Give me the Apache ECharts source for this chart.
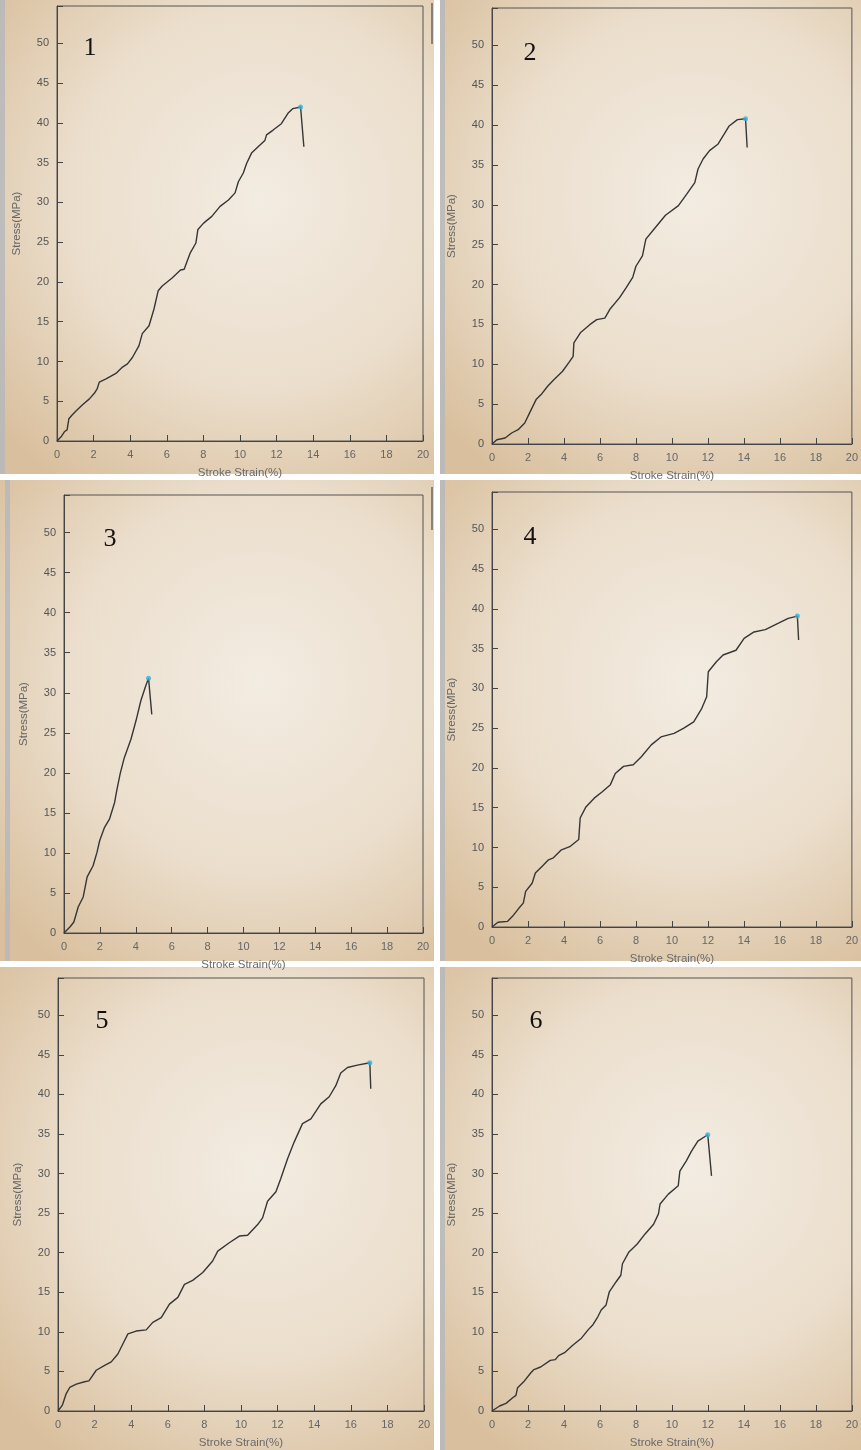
<!DOCTYPE html>
<html>
<head>
<meta charset="utf-8">
<script src="https://cdn.jsdelivr.net/npm/echarts@6/dist/echarts.min.js"></script>
<style>
html,body{margin:0;padding:0;background:#ffffff;}
#chart{width:861px;height:1450px;}
</style>
</head>
<body>
<div id="chart"></div>
<script>
// ---- data: [strain %, stress MPa] ----
var panelLabels = ['1','2','3','4','5','6'];
var xTickStep = 2, xMax = 20, yTickStep = 5, yMax = 54.7;
var xAxisName = 'Stroke Strain(%)';
var yAxisName = 'Stress(MPa)';

var curve1 = [[0,0],[0.25,0.6],[0.42,1.2],[0.55,1.4],[0.65,2.8],[0.8,3.2],[1.05,3.8],[1.41,4.6],[1.77,5.3],[2.04,6.0],[2.2,6.6],[2.31,7.4],[2.68,7.8],[3.22,8.5],[3.58,9.3],[3.85,9.7],[4.12,10.5],[4.48,12.0],[4.66,13.5],[5.03,14.5],[5.3,16.6],[5.53,18.9],[5.75,19.5],[6.29,20.5],[6.75,21.5],[6.95,21.6],[7.11,22.6],[7.29,23.7],[7.59,24.9],[7.7,26.6],[8.01,27.4],[8.46,28.25],[8.91,29.5],[9.37,30.3],[9.73,31.2],[9.91,32.6],[10.18,33.7],[10.36,34.9],[10.63,36.2],[10.99,37.0],[11.36,37.8],[11.45,38.5],[11.81,39.1],[12.26,39.9],[12.62,41.2],[12.89,41.8],[13.31,42.0],[13.49,37.0]];
var curve2 = [[0,0],[0.27,0.54],[0.73,0.75],[1.09,1.38],[1.45,1.8],[1.82,2.64],[2.09,3.9],[2.45,5.57],[2.73,6.2],[3.09,7.25],[3.45,8.1],[3.91,9.1],[4.27,10.2],[4.51,11.0],[4.55,12.7],[4.91,13.95],[5.45,15.0],[5.82,15.6],[6.27,15.8],[6.55,16.9],[7.09,18.36],[7.45,19.6],[7.82,20.9],[8.0,22.3],[8.36,23.6],[8.55,25.7],[9.0,26.95],[9.64,28.7],[10.36,29.9],[10.82,31.35],[11.27,32.8],[11.45,34.5],[11.73,35.75],[12.09,36.8],[12.55,37.6],[12.91,38.9],[13.18,39.9],[13.64,40.7],[14.09,40.8],[14.18,37.2]];
var curve3 = [[0,0],[0.33,0.75],[0.55,1.37],[0.79,3.24],[1.07,4.5],[1.29,7.0],[1.62,8.4],[1.84,10.1],[1.99,11.55],[2.26,13.2],[2.54,14.26],[2.82,16.3],[2.94,17.8],[3.13,19.9],[3.36,21.9],[3.73,24.2],[4.01,26.5],[4.28,29.0],[4.56,30.9],[4.71,31.8],[4.89,27.3]];
var curve4 = [[0,0],[0.33,0.59],[0.87,0.71],[1.14,1.34],[1.5,2.38],[1.74,3.0],[1.87,4.48],[2.23,5.5],[2.41,6.8],[2.86,7.8],[3.14,8.45],[3.41,8.7],[3.86,9.7],[4.32,10.1],[4.82,11.0],[4.9,13.7],[5.22,15.1],[5.68,16.2],[6.13,17.0],[6.58,17.9],[6.85,19.3],[7.31,20.2],[7.85,20.4],[8.3,21.4],[8.85,22.9],[9.39,23.9],[10.12,24.35],[10.66,25.0],[11.21,25.8],[11.66,27.5],[11.93,28.95],[12.02,32.1],[12.47,33.35],[12.84,34.2],[13.56,34.8],[14.01,36.3],[14.56,37.1],[15.19,37.4],[15.92,38.2],[16.46,38.8],[16.97,39.1],[17.04,36.1]];
var curve5 = [[0,0],[0.24,0.75],[0.45,2.2],[0.64,2.97],[1.0,3.4],[1.45,3.7],[1.69,3.8],[2.09,5.15],[2.55,5.77],[2.91,6.2],[3.27,7.2],[3.55,8.5],[3.82,9.75],[4.27,10.1],[4.82,10.25],[5.18,11.2],[5.64,11.8],[6.09,13.5],[6.55,14.35],[6.91,16.0],[7.36,16.5],[7.91,17.5],[8.45,18.95],[8.73,20.2],[9.36,21.25],[9.91,22.1],[10.36,22.2],[10.91,23.55],[11.18,24.4],[11.45,26.5],[11.91,27.7],[12.18,29.4],[12.55,31.9],[12.91,34.0],[13.36,36.3],[13.82,36.9],[14.36,38.8],[14.82,39.7],[15.18,41.1],[15.45,42.7],[15.82,43.4],[16.36,43.7],[17.04,44.0],[17.09,40.7]];
var curve6 = [[0,0],[0.42,0.63],[0.78,0.96],[1.15,1.67],[1.33,1.97],[1.42,2.93],[1.79,3.77],[2.15,4.8],[2.33,5.23],[2.7,5.56],[3.24,6.4],[3.52,6.49],[3.7,6.99],[4.06,7.41],[4.52,8.37],[4.97,9.2],[5.34,10.25],[5.61,10.9],[5.88,11.9],[6.07,12.76],[6.34,13.4],[6.52,15.06],[6.89,16.3],[7.16,17.15],[7.25,18.6],[7.61,20.1],[8.07,21.1],[8.52,22.4],[8.98,23.6],[9.25,24.9],[9.34,26.15],[9.8,27.4],[10.35,28.45],[10.44,30.3],[10.8,31.6],[11.08,32.8],[11.44,34.1],[11.99,34.9],[12.2,29.7]];

var curves = [curve1, curve2, curve3, curve4, curve5, curve6];

// ---- layout (pixels) ----
var photos = [
  {x:0,   y:0,   w:434, h:474},
  {x:440, y:0,   w:421, h:474},
  {x:0,   y:480, w:434, h:481},
  {x:440, y:480, w:421, h:481},
  {x:0,   y:967, w:434, h:483},
  {x:440, y:967, w:421, h:483}
];
var grids = [
  {left:57,  top:6,   right:423, bottom:441},
  {left:492, top:8,   right:858, bottom:444},
  {left:64,  top:495, right:423, bottom:933},
  {left:492, top:492, right:860, bottom:927},
  {left:58,  top:978, right:424, bottom:1413},
  {left:492, top:978, right:858, bottom:1413}
];
var numPos = [[90,48],[530,53],[110,539],[530,537],[102,1021],[536,1021]];
var screenBars = [[432,3,432,44],[432,487,432,530]];

var chart = echarts.init(document.getElementById('chart'), null, {renderer:'canvas'});

var option = {
  backgroundColor: '#ffffff',
  animation: false,
  grid: [], xAxis: [], yAxis: [], series: [], graphic: []
};

var fontFam = '"Liberation Sans", Arial, sans-serif';

photos.forEach(function(p, i){
  option.graphic.push({
    type:'rect', z:-10, silent:true,
    shape:{x:p.x, y:p.y, width:p.w, height:p.h},
    style:{fill:{type:'radial', x:0.6, y:0.42, r:0.8, colorStops:[
      {offset:0, color:'#f3ece2'},
      {offset:0.55, color:'#ebdecc'},
      {offset:1, color:'#d9bf9d'}
    ]}}
  });
  if (i !== 4) {
    option.graphic.push({
      type:'rect', z:-9, silent:true,
      shape:{x:p.x + (i===2?5:0), y:p.y, width:5, height:p.h},
      style:{fill:'#b4b8bd', opacity:0.8}
    });
  }
});
screenBars.forEach(function(b){
  option.graphic.push({
    type:'line', z:-8, silent:true,
    shape:{x1:b[0], y1:b[1], x2:b[2], y2:b[3]},
    style:{stroke:'#666', lineWidth:1.5}
  });
});

grids.forEach(function(g, i){
  option.grid.push({
    left:g.left, top:g.top, width:g.right-g.left, height:g.bottom-g.top,
    show:true, borderColor:'#555', borderWidth:1, backgroundColor:'transparent',
    containLabel:false
  });
  option.xAxis.push({
    type:'value', gridIndex:i, min:0, max:xMax, interval:xTickStep,
    name:xAxisName, nameLocation:'middle', nameGap:26,
    nameTextStyle:{color:'#6a6a6a', fontSize:11.5, fontFamily:fontFam},
    axisLine:{show:true, lineStyle:{color:'#444', width:1}},
    axisTick:{show:true, inside:true, length:6, lineStyle:{color:'#444'}},
    axisLabel:{color:'#666', fontSize:11, fontFamily:fontFam, margin:8},
    splitLine:{show:false}
  });
  option.yAxis.push({
    type:'value', gridIndex:i, min:0, max:yMax, interval:yTickStep,
    name:yAxisName, nameLocation:'middle', nameGap:34,
    nameTextStyle:{color:'#666', fontSize:11.5, fontFamily:fontFam},
    axisLine:{show:true, lineStyle:{color:'#444', width:1}},
    axisTick:{show:true, inside:true, length:6, lineStyle:{color:'#444'}},
    axisLabel:{color:'#555', fontSize:11, fontFamily:fontFam, margin:8,
      formatter:function(v){ return (Math.abs(v % 5) < 1e-6) ? String(v) : ''; }},
    splitLine:{show:false}
  });
  var data = curves[i];
  var peak = data.reduce(function(a,b){ return b[1] > a[1] ? b : a; });
  option.series.push({
    type:'line', xAxisIndex:i, yAxisIndex:i, data:data,
    showSymbol:false, symbol:'none', smooth:false,
    lineStyle:{color:'#363636', width:1.4}
  });
  option.series.push({
    type:'scatter', xAxisIndex:i, yAxisIndex:i, data:[peak],
    symbolSize:5, itemStyle:{color:'#35b2dc'}, z:5
  });
  option.graphic.push({
    type:'text', z:10, silent:true,
    x:numPos[i][0], y:numPos[i][1],
    style:{text:panelLabels[i], fill:'#111', fontSize:26,
      fontFamily:'"Liberation Serif", "Times New Roman", serif',
      align:'center', verticalAlign:'middle'}
  });
});

chart.setOption(option);
</script>
</body>
</html>
